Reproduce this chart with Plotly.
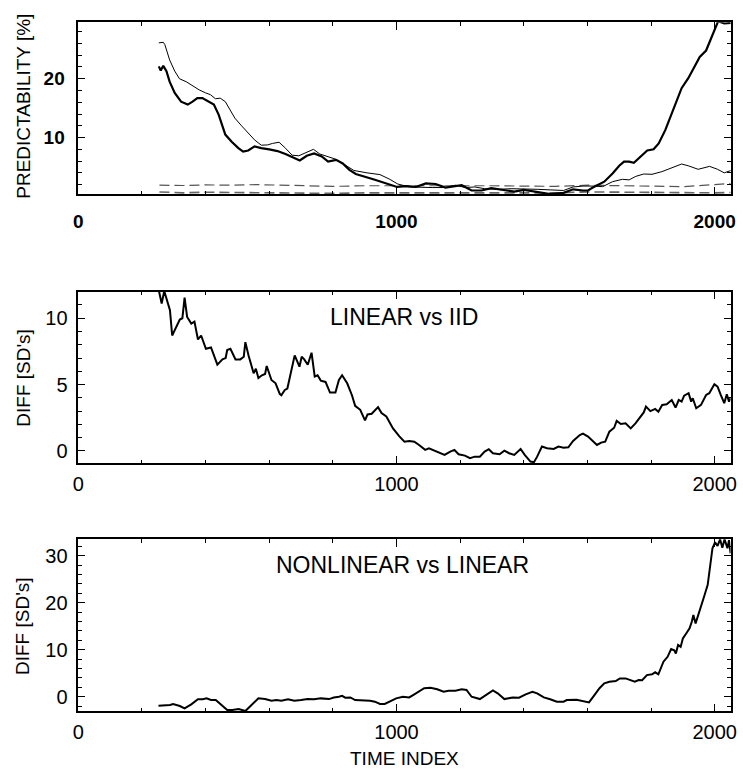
import plotly.graph_objects as go

# ---------------- data ----------------
# Top panel: predictability [%]
nl_pred_x = [253, 259, 267, 277, 287, 303, 323, 344, 359, 374,
             390, 410, 426, 441, 462, 482, 503, 518, 534, 554,
             575, 600, 626, 651, 677, 696, 718, 741, 765, 785,
             810, 831, 852, 872, 927, 968, 1002, 1030, 1061, 1092,
             1123, 1154, 1185, 1205, 1236, 1267, 1298, 1334, 1370, 1401,
             1442, 1483, 1525, 1555, 1586, 1602, 1617, 1653, 1679, 1700,
             1715, 1731, 1746, 1767, 1788, 1808, 1824, 1845, 1865, 1886,
             1896, 1917, 1937, 1953, 1973, 1989, 2004, 2011, 2030, 2051]
nl_pred_y = [22.1, 21.4, 22.2, 21.3, 19.5, 17.6, 16.1, 15.6, 16.1, 16.7,
             16.7, 16.1, 15.6, 13.9, 10.5, 9.3, 8.2, 7.6, 7.8, 8.5,
             8.2, 8.0, 7.7, 7.2, 6.5, 6.1, 6.9, 7.3, 6.8, 5.9,
             6.2, 5.6, 4.5, 3.8, 2.9, 2.2, 1.6, 1.75, 1.6, 2.2,
             2.1, 1.5, 1.75, 1.9, 1.0, 1.0, 1.4, 1.1, 0.8, 1.1,
             0.7, 0.4, 0.6, 1.2, 1.0, 1.0, 1.5, 2.5, 3.9, 5.2,
             5.9, 5.9, 5.7, 6.8, 7.8, 8.0, 9.0, 11.3, 14.1, 17.0,
             18.4, 20.1, 22.1, 23.7, 24.8, 26.9, 29.2, 29.8, 29.4, 29.5]

lin_pred_x = [253, 267, 272, 287, 303, 318, 339, 364, 380, 400,
              415, 431, 446, 462, 477, 492, 513, 534, 554, 575,
              595, 610, 631, 651, 672, 693, 713, 739, 759, 785,
              810, 831, 852, 866, 907, 948, 979, 1004, 1040, 1082,
              1112, 1154, 1185, 1216, 1246, 1277, 1319, 1360, 1401, 1442,
              1483, 1525, 1555, 1586, 1617, 1648, 1679, 1710, 1731, 1752,
              1777, 1803, 1834, 1865, 1896, 1917, 1948, 1984, 2009, 2030,
              2051]
lin_pred_y = [26.1, 26.2, 25.8, 23.2, 21.3, 20.0, 19.5, 18.6, 18.1, 17.6,
              17.3, 16.6, 16.7, 16.1, 14.7, 13.3, 12.0, 10.7, 9.6, 8.7,
              8.75, 9.0, 9.2, 8.2, 7.0, 6.9, 7.4, 8.0, 7.2, 6.8,
              6.3, 5.6, 4.8, 4.4, 4.0, 3.7, 2.9, 2.1, 1.6, 1.5,
              1.5, 1.5, 1.9, 1.5, 1.6, 1.3, 1.2, 1.3, 1.3, 1.2,
              1.1, 1.0, 1.6, 1.75, 1.75, 1.65, 2.5, 2.9, 2.8, 3.4,
              3.8, 3.75, 4.2, 4.8, 5.5, 5.2, 4.6, 5.1, 4.6, 4.0,
              4.4]

surr_x = [255, 330, 400, 480, 560, 640, 720, 800, 900, 1000, 1100,
          1200, 1300, 1400, 1500, 1600, 1700, 1800, 1900, 2000, 2050]
surr_hi_y = [1.9, 1.85, 1.95, 1.9, 2.0, 1.9, 1.85, 1.7, 1.8, 1.8, 1.9,
             1.85, 1.8, 1.75, 1.7, 1.9, 1.85, 1.7, 1.65, 2.0, 2.2]
surr_lo_y = [0.75, 0.6, 0.7, 0.65, 0.7, 0.55, 0.6, 0.5, 0.6, 0.6, 0.7,
             0.7, 0.6, 0.65, 0.6, 0.75, 0.7, 0.6, 0.55, 0.6, 0.65]

# Middle panel: LINEAR vs IID difference [SD's]
lin_iid_x = [253, 262, 270, 288, 295, 309, 319, 327, 334, 342,
             355, 365, 376, 386, 401, 417, 437, 453, 463, 468,
             478, 494, 509, 520, 525, 535, 551, 558, 566, 577,
             587, 592, 607, 620, 633, 638, 649, 657, 669, 680,
             695, 702, 710, 721, 733, 743, 752, 762, 777, 791,
             808, 819, 829, 845, 860, 870, 886, 901, 909, 922,
             942, 953, 968, 989, 1009, 1025, 1040, 1056, 1071, 1090,
             1102, 1123, 1151, 1169, 1182, 1195, 1215, 1231, 1246, 1262,
             1277, 1290, 1303, 1324, 1339, 1354, 1370, 1390, 1403, 1421,
             1432, 1442, 1457, 1473, 1494, 1509, 1525, 1540, 1555, 1576,
             1586, 1602, 1617, 1630, 1643, 1656, 1669, 1684, 1692, 1705,
             1720, 1736, 1751, 1767, 1777, 1784, 1798, 1813, 1823, 1835,
             1849, 1865, 1877, 1887, 1896, 1904, 1918, 1926, 1931, 1942,
             1957, 1973, 1983, 1999, 2009, 2019, 2030, 2038, 2045, 2050]
lin_iid_y = [12.1, 11.1, 12.05, 10.6, 8.7, 9.4, 9.9, 10.0, 11.55, 10.1,
             9.6, 9.75, 8.4, 8.7, 7.7, 7.8, 6.5, 6.9, 7.0, 7.6,
             7.7, 6.9, 6.9, 7.1, 8.2, 7.2, 5.85, 6.2, 5.5, 5.7,
             5.8, 6.4, 5.35, 5.1, 4.3, 4.2, 4.6, 4.7, 6.1, 7.2,
             6.35, 7.1, 6.9, 6.5, 7.4, 5.6, 5.7, 5.3, 5.2, 4.4,
             4.4, 5.35, 5.7, 5.1, 4.2, 3.4, 3.1, 2.3, 2.75, 2.8,
             3.3, 2.85, 2.6, 1.7, 1.1, 0.7, 0.75, 0.7, 0.45, 0.08,
             0.2, 0.0, -0.3, -0.05, 0.08, -0.25, -0.35, -0.55, -0.43, -0.43,
             -0.05, 0.13, -0.17, -0.25, 0.02, -0.17, -0.3, 0.15, -0.3, -0.8,
             -0.85, -0.43, 0.33, 0.2, 0.15, 0.33, 0.25, 0.28, 0.75, 1.2,
             1.3, 1.08, 0.75, 0.45, 0.63, 0.7, 1.45, 1.75, 2.26, 2.03,
             2.08, 1.7, 2.08, 2.63, 2.9, 3.34, 3.0, 3.17, 2.96, 3.47,
             3.52, 3.84, 3.27, 3.84, 3.72, 4.17, 4.35, 3.72, 3.97, 3.22,
             3.47, 4.22, 4.35, 5.03, 4.85, 4.22, 3.6, 4.27, 3.72, 3.97]

# Bottom panel: NONLINEAR vs LINEAR difference [SD's]
nl_lin_x = [252, 288, 298, 319, 334, 355, 376, 391, 403, 417,
            432, 453, 468, 484, 504, 525, 546, 566, 587, 607,
            623, 638, 659, 679, 700, 721, 741, 762, 788, 803,
            819, 829, 839, 855, 870, 896, 917, 932, 948, 963,
            978, 999, 1020, 1040, 1056, 1069, 1087, 1107, 1128, 1148,
            1164, 1185, 1205, 1220, 1236, 1262, 1282, 1303, 1318, 1339,
            1365, 1385, 1406, 1427, 1442, 1463, 1483, 1504, 1525, 1535,
            1566, 1586, 1605, 1622, 1638, 1653, 1669, 1689, 1702, 1720,
            1736, 1749, 1761, 1772, 1787, 1803, 1813, 1823, 1839, 1852,
            1863, 1873, 1878, 1885, 1893, 1900, 1911, 1921, 1928, 1933,
            1940, 1949, 1958, 1968, 1978, 1983, 1993, 2001, 2009, 2017,
            2024, 2031, 2040, 2045, 2050]
nl_lin_y = [-1.9, -1.77, -1.55, -1.98, -2.48, -1.62, -0.55, -0.55, -0.35, -0.7,
            -0.7, -1.9, -2.83, -2.83, -2.6, -3.05, -1.62, -0.35, -0.5, -0.85,
            -0.7, -0.85, -0.55, -0.85, -0.7, -0.5, -0.55, -0.35, -0.5, -0.15,
            0.0, 0.2, -0.2, -0.15, -0.7, -0.7, -0.85, -1.06, -1.55, -1.55,
            -1.06, -0.35, 0.0, -0.15, 0.5, 1.06, 1.8, 1.9, 1.6, 1.06,
            1.28, 1.28, 1.57, 1.43, 0.0, -0.5, 0.5, 1.36, 0.72, -0.5,
            -0.15, -0.2, 0.5, 1.06, 0.72, -0.15, -0.55, -1.06, -1.06, -0.7,
            -0.63, -0.85, -1.2, 0.36, 1.8, 2.85, 3.2, 3.34, 3.9, 3.9,
            3.55, 3.2, 3.55, 3.5, 4.6, 4.77, 5.2, 4.77, 7.45, 8.5,
            10.15, 9.9, 9.2, 11.0, 10.6, 12.4, 13.5, 14.55, 15.95, 17.4,
            15.6, 17.7, 19.5, 21.6, 23.8, 26.6, 31.6, 32.85, 32.1, 33.5,
            31.7, 33.5, 31.6, 33.3, 30.5]

x_ticks = [0, 1000, 2000]
top_title = "PREDICTABILITY [%]"
diff_title = "DIFF [SD's]"
panel2_label = "LINEAR vs IID"
panel3_label = "NONLINEAR vs LINEAR"
x_title = "TIME INDEX"

# ---------------- figure ----------------
W, H = 743, 769
FONT = "Liberation Sans, Arial, Helvetica, sans-serif"

fig = go.Figure()

def line(x, y, xa, ya, width, dash="solid", color="black"):
    fig.add_trace(go.Scatter(x=x, y=y, mode="lines", xaxis=xa, yaxis=ya,
                             line=dict(color=color, width=width, dash=dash),
                             showlegend=False, hoverinfo="skip"))

line(surr_x, surr_hi_y, "x", "y", 1.2, dash="10px,5px", color="#555555")
line(surr_x, surr_lo_y, "x", "y", 1.6, dash="10px,5px", color="#666666")
line(lin_pred_x, lin_pred_y, "x", "y", 1.0)
line(nl_pred_x, nl_pred_y, "x", "y", 2.2)
line(lin_iid_x, lin_iid_y, "x2", "y2", 2.0)
line(nl_lin_x, nl_lin_y, "x3", "y3", 2.0)

xdom = [73.5 / W, 736.5 / W]
def ydom(top, bot):
    return [1 - bot / H, 1 - top / H]

def xaxis(anchor, bold):
    return dict(domain=xdom, anchor=anchor, range=[0, 2050],
                tickmode="array", tickvals=x_ticks,
                ticktext=[f"<b>{v}</b>" if bold else str(v) for v in x_ticks],
                ticks="inside", ticklen=8, tickwidth=1, tickcolor="black",
                minor=dict(tickmode="linear", tick0=0, dtick=200, ticks="inside",
                           ticklen=4, tickwidth=1, tickcolor="black"),
                showline=True, linecolor="black", linewidth=1.5, mirror="ticks",
                showgrid=False, zeroline=False,
                tickfont=dict(family=FONT, size=19 if bold else 20, color="black"),
                ticklabelstandoff=9 if bold else 2)

def yaxis(anchor, dom, rng, dtick, minor, bold):
    vals = []
    v = 0
    while v <= rng[1]:
        if v >= rng[0]:
            vals.append(v)
        v += dtick
    return dict(domain=dom, anchor=anchor, range=rng,
                tickmode="array", tickvals=vals,
                ticktext=[f"<b>{t}</b>" if bold else str(t) for t in vals],
                ticks="inside", ticklen=7, tickwidth=1, tickcolor="black",
                minor=dict(tickmode="linear", tick0=0, dtick=minor, ticks="inside",
                           ticklen=4, tickwidth=1, tickcolor="black"),
                showline=True, linecolor="black", linewidth=1.5, mirror="ticks",
                showgrid=False, zeroline=False,
                tickfont=dict(family=FONT, size=19 if bold else 20, color="black"),
                ticklabelstandoff=8 if bold else 5)

fig.update_layout(
    width=W, height=H, margin=dict(l=0, r=0, t=0, b=0),
    paper_bgcolor="white", plot_bgcolor="white",
    font=dict(family=FONT, color="black"),
    xaxis=xaxis("y", True),
    yaxis=yaxis("x", ydom(22.3, 194.3), [0.35, 29.6], 10, 2, True),
    xaxis2=xaxis("y2", False),
    yaxis2=yaxis("x2", ydom(291.7, 463.3), [-0.93, 12.0], 5, 1, False),
    xaxis3=xaxis("y3", False),
    yaxis3=yaxis("x3", ydom(539.3, 711.3), [-3.1, 33.5], 10, 2, False),
)

def ann(text, x, y, size, angle=0):
    fig.add_annotation(text=text, x=x, y=y, xref="paper", yref="paper",
                       xanchor="center", yanchor="middle", showarrow=False,
                       textangle=angle, font=dict(family=FONT, size=size, color="black"))

ann(top_title, 17.5 / W, 1 - 106.5 / H, 19, -90)
ann(diff_title, 17.5 / W, 1 - 377.5 / H, 19, -90)
ann(diff_title, 17.5 / W, 1 - 625.8 / H, 19, -90)
ann(x_title, 405 / W, 1 - 758 / H, 19)
ann(panel2_label, 405 / W, 1 - 317 / H, 23)
ann(panel3_label, 403 / W, 1 - 565 / H, 23)

fig.write_html("out.html")
